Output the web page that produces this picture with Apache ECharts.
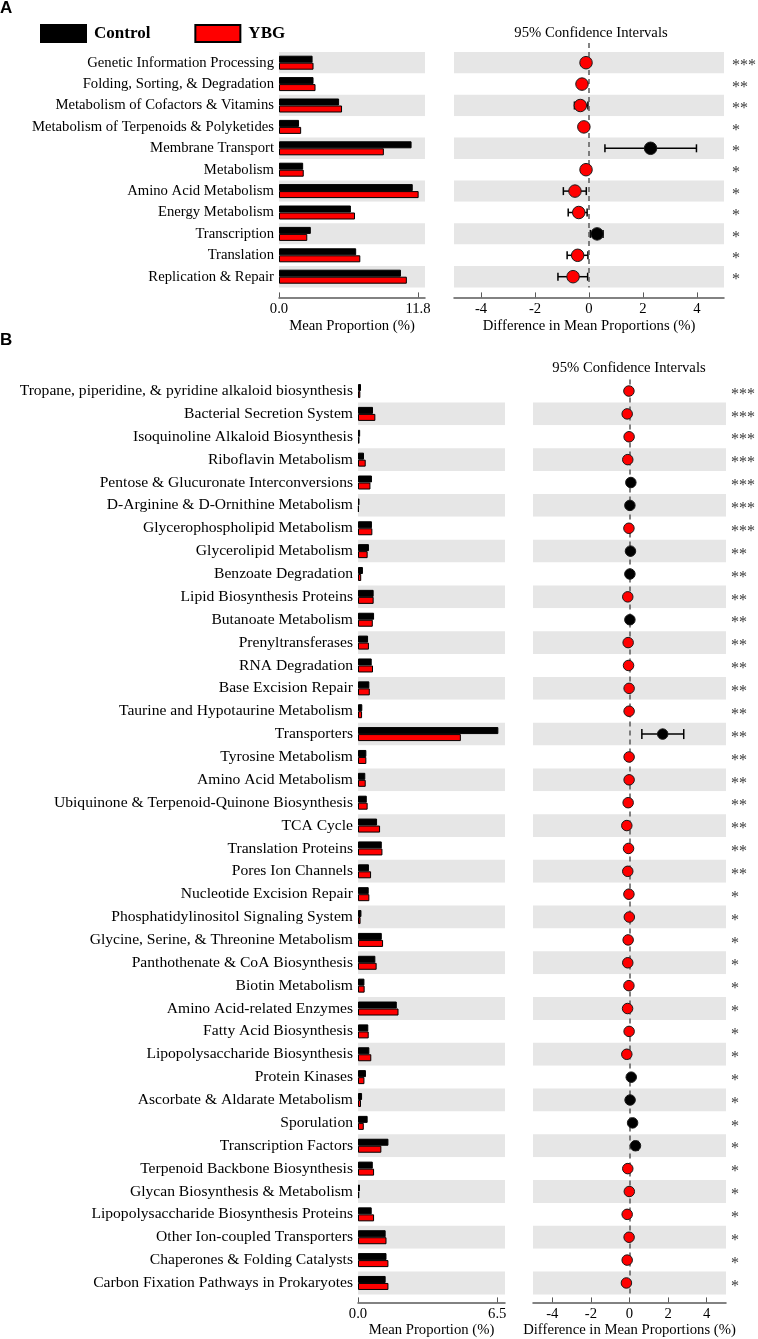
<!DOCTYPE html>
<html>
<head>
<meta charset="utf-8">
<script src="https://cdn.jsdelivr.net/npm/echarts@6/dist/echarts.min.js"></script>
<style>
html,body{margin:0;padding:0;background:#fff;}
#chart{width:758px;height:1339px;}
</style>
</head>
<body>
<div id="chart"></div>
<script>
// ---------- Panel A data ----------
const catsA = ['Genetic Information Processing','Folding, Sorting, & Degradation','Metabolism of Cofactors & Vitamins','Metabolism of Terpenoids & Polyketides','Membrane Transport','Metabolism','Amino Acid Metabolism','Energy Metabolism','Transcription','Translation','Replication & Repair'];
const controlA = [2.85,2.93,5.1,1.7,11.25,2.05,11.35,6.1,2.7,6.55,10.35];
const ybgA     = [2.93,3.1,5.35,1.88,8.9,2.1,11.85,6.45,2.4,6.9,10.85];
const diffA    = [-0.11,-0.26,-0.32,-0.19,2.28,-0.11,-0.52,-0.38,0.30,-0.42,-0.59];
const lowA     = [-0.15,-0.30,-0.54,-0.23,0.59,-0.15,-0.95,-0.77,0.05,-0.81,-1.15];
const highA    = [-0.07,-0.22,-0.04,-0.15,3.98,-0.07,-0.10,-0.07,0.52,-0.04,-0.05];
const starsA   = ['***','**','**','*','*','*','*','*','*','*','*'];
const propTicksA = [0, 11.8];

// ---------- Panel B data ----------
const catsB = ['Tropane, piperidine, & pyridine alkaloid biosynthesis','Bacterial Secretion System','Isoquinoline Alkaloid Biosynthesis','Riboflavin Metabolism','Pentose & Glucuronate Interconversions','D-Arginine & D-Ornithine Metabolism','Glycerophospholipid Metabolism','Glycerolipid Metabolism','Benzoate Degradation','Lipid Biosynthesis Proteins','Butanoate Metabolism','Prenyltransferases','RNA Degradation','Base Excision Repair','Taurine and Hypotaurine Metabolism','Transporters','Tyrosine Metabolism','Amino Acid Metabolism','Ubiquinone & Terpenoid-Quinone Biosynthesis','TCA Cycle','Translation Proteins','Pores Ion Channels','Nucleotide Excision Repair','Phosphatidylinositol Signaling System','Glycine, Serine, & Threonine Metabolism','Panthothenate & CoA Biosynthesis','Biotin Metabolism','Amino Acid-related Enzymes','Fatty Acid Biosynthesis','Lipopolysaccharide Biosynthesis','Protein Kinases','Ascorbate & Aldarate Metabolism','Sporulation','Transcription Factors','Terpenoid Backbone Biosynthesis','Glycan Biosynthesis & Metabolism','Lipopolysaccharide Biosynthesis Proteins','Other Ion-coupled Transporters','Chaperones & Folding Catalysts','Carbon Fixation Pathways in Prokaryotes'];
const controlB = [0.14,0.70,0.10,0.28,0.65,0.07,0.65,0.51,0.23,0.73,0.75,0.47,0.64,0.53,0.20,6.55,0.39,0.34,0.41,0.89,1.11,0.51,0.50,0.16,1.11,0.81,0.30,1.81,0.48,0.53,0.37,0.19,0.45,1.42,0.69,0.09,0.64,1.29,1.33,1.29];
const ybgB     = [0.11,0.81,0.07,0.36,0.58,0.04,0.67,0.45,0.15,0.73,0.69,0.51,0.70,0.55,0.19,4.80,0.39,0.36,0.45,1.03,1.14,0.61,0.53,0.12,1.17,0.87,0.31,1.89,0.50,0.62,0.30,0.14,0.27,1.09,0.75,0.06,0.75,1.33,1.42,1.42];
const diffB    = [-0.03,-0.12,-0.02,-0.09,0.07,0.02,-0.03,0.05,0.02,-0.09,0.02,-0.07,-0.05,-0.02,-0.02,1.72,-0.02,-0.02,-0.07,-0.14,-0.05,-0.09,-0.03,-0.01,-0.07,-0.09,-0.03,-0.10,-0.02,-0.14,0.09,0.03,0.16,0.31,-0.09,-0.01,-0.12,-0.02,-0.12,-0.16];
const lowB     = [-0.05,-0.16,-0.03,-0.12,0.04,0.01,-0.05,0.03,0.01,-0.13,0.01,-0.10,-0.08,-0.04,-0.03,0.64,-0.04,-0.04,-0.10,-0.19,-0.09,-0.13,-0.05,-0.02,-0.11,-0.13,-0.05,-0.15,-0.04,-0.19,0.05,0.01,0.10,0.22,-0.13,-0.02,-0.16,-0.05,-0.16,-0.21];
const highB    = [-0.01,-0.08,-0.01,-0.06,0.10,0.03,-0.01,0.07,0.03,-0.05,0.03,-0.04,-0.02,-0.01,-0.01,2.81,-0.01,-0.01,-0.04,-0.09,-0.02,-0.05,-0.01,-0.005,-0.03,-0.05,-0.01,-0.05,-0.01,-0.09,0.13,0.05,0.22,0.45,-0.05,-0.005,-0.08,-0.01,-0.08,-0.11];
const starsB   = ['***','***','***','***','***','***','***','**','**','**','**','**','**','**','**','**','**','**','**','**','**','**','*','*','*','*','*','*','*','*','*','*','*','*','*','*','*','*','*','*'];
const propTicksB = [0, 6.5];
const diffTicks = [-4,-2,0,2,4];

// ---------- styling / layout ----------
const SERIF = "'Liberation Serif','Times New Roman',serif";
const AXIS_COLOR = '#595959';
const BAND = '#e6e6e6';
const FS = 14.7;

const chart = echarts.init(document.getElementById('chart'), null, {renderer:'canvas'});

function propAxis(gi, max, ticks, offset, nameGap){
  return {
    gridIndex: gi, type:'value', min:0, max:max, offset:offset,
    axisLine:{show:true, lineStyle:{color:AXIS_COLOR, width:1.5}},
    axisTick:{show:true, inside:true, length:5, customValues:ticks, lineStyle:{color:AXIS_COLOR, width:1}},
    axisLabel:{show:true, customValues:ticks, formatter:v=>v.toFixed(1), fontFamily:SERIF, fontSize:FS, color:'#000', margin:4},
    splitLine:{show:false},
    name:'Mean Proportion (%)', nameLocation:'middle', nameGap:nameGap, nameMoveOverlap:false,
    nameTextStyle:{fontFamily:SERIF, fontSize:FS, color:'#000', verticalAlign:'top'}
  };
}
function diffAxis(gi, offset, nameGap){
  return {
    gridIndex: gi, type:'value', min:-5, max:5, offset:offset,
    axisLine:{show:true, lineStyle:{color:AXIS_COLOR, width:1.5}},
    axisTick:{show:true, inside:true, length:5, customValues:diffTicks, lineStyle:{color:AXIS_COLOR, width:1}},
    axisLabel:{show:true, customValues:diffTicks, fontFamily:SERIF, fontSize:FS, color:'#000', margin:4},
    splitLine:{show:false},
    name:'Difference in Mean Proportions (%)', nameLocation:'middle', nameGap:nameGap, nameMoveOverlap:false,
    nameTextStyle:{fontFamily:SERIF, fontSize:FS, color:'#000', verticalAlign:'top'}
  };
}
function catAxisLeft(gi, cats, colors, fs){
  return {
    gridIndex: gi, type:'category', data:cats, inverse:true,
    axisLine:{show:false}, axisTick:{show:false},
    axisLabel:{interval:0, margin:5, fontFamily:SERIF, fontSize:fs, color:'#000'},
    splitLine:{show:false},
    splitArea:{show:true, interval:0, areaStyle:{color:colors}}
  };
}
function catAxisRight(gi, cats, stars, colors, margin){
  return {
    gridIndex: gi, type:'category', data:cats, inverse:true, position:'right',
    axisLine:{show:false}, axisTick:{show:false},
    axisLabel:{interval:0, margin:margin, align:'left',
      formatter:(v, i)=>'{s|' + stars[i] + '}',
      rich:{s:{fontFamily:SERIF, fontSize:16, color:'#3a3a3a', padding:[7,0,0,0]}}},
    splitLine:{show:false},
    splitArea:{show:true, interval:0, areaStyle:{color:colors}}
  };
}
function bars(name, data, xi, yi, color){
  return {type:'bar', name:name, xAxisIndex:xi, yAxisIndex:yi, data:data,
    barWidth:7, barGap:'0%', barCategoryGap:'0%',
    itemStyle:{color:color, borderColor:'#000', borderWidth:1}, z:3};
}
function errSeries(low, high, xi, yi, cap){
  return {
    type:'custom', xAxisIndex:xi, yAxisIndex:yi, z:3, silent:true,
    data: low.map((l,i)=>[i, l, high[i]]),
    encode:{x:[1,2], y:0},
    renderItem:function(params, api){
      const a = api.coord([api.value(1), api.value(0)]);
      const b = api.coord([api.value(2), api.value(0)]);
      const st = {stroke:'#000', lineWidth:1.5};
      return {type:'group', children:[
        {type:'line', shape:{x1:a[0], y1:a[1], x2:b[0], y2:b[1]}, style:st},
        {type:'line', shape:{x1:a[0], y1:a[1]-cap, x2:a[0], y2:a[1]+cap}, style:st},
        {type:'line', shape:{x1:b[0], y1:b[1]-cap, x2:b[0], y2:b[1]+cap}, style:st}
      ]};
    },
    markLine:{silent:true, symbol:'none', label:{show:false},
      lineStyle:{color:AXIS_COLOR, type:[5,4], width:1.5},
      data:[{xAxis:0}]}
  };
}
function dots(diff, xi, yi, size){
  return {
    type:'scatter', xAxisIndex:xi, yAxisIndex:yi, symbol:'circle', symbolSize:size, z:5, silent:true,
    data: diff.map((d,i)=>({value:[d,i], itemStyle:{color: d>0 ? '#000' : '#ff0000', borderColor:'#1a1a1a', borderWidth:1, opacity:1}}))
  };
}

const rowA = 21.4, topA = 52;
const rowB = 22.87, topB = 379.6;

const option = {
  animation:false,
  backgroundColor:'#fff',
  title:[
    {text:'A', left:0, top:0, textStyle:{fontFamily:"'Liberation Sans',Arial,sans-serif", fontWeight:'bold', fontSize:17, color:'#000'}, padding:0},
    {text:'B', left:0, top:332, textStyle:{fontFamily:"'Liberation Sans',Arial,sans-serif", fontWeight:'bold', fontSize:17, color:'#000'}, padding:0},
    {text:'95% Confidence Intervals', left:591, textAlign:'center', top:26, padding:0, textStyle:{fontFamily:SERIF, fontWeight:'normal', fontSize:FS, color:'#000'}},
    {text:'95% Confidence Intervals', left:629, textAlign:'center', top:361, padding:0, textStyle:{fontFamily:SERIF, fontWeight:'normal', fontSize:FS, color:'#000'}}
  ],
  legend:{
    data:['Control','YBG'], left:40, top:24, orient:'horizontal',
    itemWidth:45, itemHeight:17, itemGap:44, icon:'rect', padding:0,
    textStyle:{fontFamily:SERIF, fontWeight:'bold', fontSize:17, color:'#000', padding:[0,0,0,3]},
    selectedMode:false
  },
  grid:[
    {left:279, top:topA, width:146, height:rowA*catsA.length, outerBoundsMode:'none', containLabel:false},
    {left:454, top:topA, width:270, height:rowA*catsA.length, outerBoundsMode:'none', containLabel:false},
    {left:358, top:topB, width:147, height:rowB*catsB.length, outerBoundsMode:'none', containLabel:false},
    {left:533, top:topB, width:193, height:rowB*catsB.length, outerBoundsMode:'none', containLabel:false}
  ],
  xAxis:[
    propAxis(0, 12.39, propTicksA, 10, 21),
    diffAxis(1, 10, 21),
    propAxis(2, 6.86, propTicksB, 8, 20),
    diffAxis(3, 8, 20)
  ],
  yAxis:[
    catAxisLeft(0, catsA, [BAND,'#fff'], 14.7),
    catAxisRight(1, catsA, starsA, [BAND,'#fff'], 8),
    catAxisLeft(2, catsB, ['#fff',BAND], 15.6),
    catAxisRight(3, catsB, starsB, ['#fff',BAND], 5)
  ],
  series:[
    bars('Control', controlA, 0, 0, '#000'),
    bars('YBG', ybgA, 0, 0, '#ff0000'),
    errSeries(lowA, highA, 1, 1, 4),
    dots(diffA, 1, 1, 12.5),
    bars('Control', controlB, 2, 2, '#000'),
    bars('YBG', ybgB, 2, 2, '#ff0000'),
    errSeries(lowB, highB, 3, 3, 5),
    dots(diffB, 3, 3, 10.5)
  ]
};
chart.setOption(option);

// short extension of the zero reference line above panel A's interval plot
const zeroX = chart.convertToPixel({xAxisIndex:1}, 0);
chart.setOption({graphic:[{
  type:'line', silent:true,
  shape:{x1:zeroX, y1:topA-9, x2:zeroX, y2:topA},
  style:{stroke:AXIS_COLOR, lineWidth:1.5, lineDash:[5,4]}
}]});
</script>
</body>
</html>
